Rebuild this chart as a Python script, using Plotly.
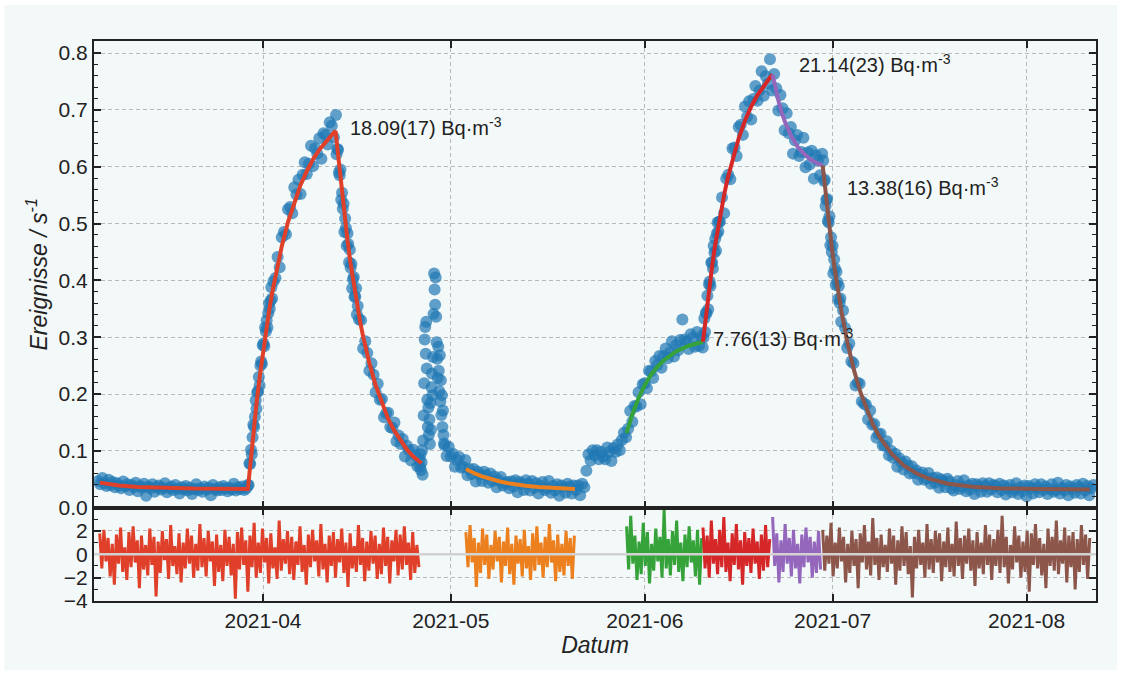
import pandas as pd
import plotly.graph_objects as go

# ---------------------------------------------------------------------------
# Measured count rate (events per second).  Each block has its own start
# time and sampling step; steep parts are sampled more finely.
# ---------------------------------------------------------------------------
baseline_start = "2021-03-05 16:00"   # 8 h
rate_baseline = [
    0.047, 0.041, 0.052, 0.043, 0.038, 0.049, 0.040, 0.045, 0.036, 0.043,
    0.039, 0.034, 0.046, 0.037, 0.041, 0.031, 0.040, 0.036, 0.044, 0.029,
    0.038, 0.035, 0.042, 0.021, 0.037, 0.034, 0.041, 0.028, 0.036, 0.039,
    0.032, 0.035, 0.043, 0.027, 0.034, 0.037, 0.031, 0.040, 0.033, 0.025,
    0.036, 0.032, 0.038, 0.030, 0.035, 0.024, 0.033, 0.041, 0.031, 0.034,
    0.028, 0.037, 0.032, 0.035, 0.022, 0.040, 0.033, 0.030, 0.036, 0.031,
    0.038, 0.034, 0.029, 0.035, 0.032, 0.042, 0.030, 0.036, 0.033, 0.037,
    0.031, 0.034,
]

rise_fast_start = "2021-03-29 14:00"  # 3 h
rate_rise_fast = [
    0.040, 0.040, 0.078, 0.077, 0.102, 0.094, 0.124, 0.146, 0.142, 0.160,
    0.189, 0.174, 0.203, 0.205, 0.230, 0.215, 0.250, 0.257, 0.253, 0.286,
    0.289, 0.284, 0.317, 0.310, 0.330, 0.317, 0.342, 0.359, 0.350, 0.364,
    0.388, 0.368,
]

rise_slow_start = "2021-04-02 16:00"  # 8 h
rate_rise_slow = [
    0.398, 0.404, 0.441, 0.423, 0.476, 0.485, 0.481, 0.525, 0.529, 0.518,
    0.564, 0.551, 0.577, 0.552, 0.586, 0.608, 0.587, 0.605, 0.637, 0.601,
    0.632, 0.623, 0.650, 0.614, 0.659, 0.656, 0.639, 0.678, 0.672, 0.652,
    0.691,
]

decay_fast_start = "2021-04-12 18:00"  # 3 h
rate_decay_fast = [
    0.622, 0.631, 0.630, 0.590, 0.585, 0.595, 0.542, 0.554, 0.526, 0.535,
    0.485, 0.509, 0.492, 0.461, 0.483, 0.464, 0.432, 0.454, 0.422, 0.429,
    0.386, 0.402, 0.406, 0.371, 0.371, 0.386, 0.340, 0.355,
]

decay_slow_start = "2021-04-16 08:00"  # 8 h
rate_decay_slow = [
    0.331, 0.330, 0.280, 0.293, 0.272, 0.241, 0.254, 0.234, 0.203, 0.218,
    0.190, 0.191, 0.159, 0.166, 0.167, 0.142, 0.140, 0.150, 0.117, 0.127,
    0.112, 0.121, 0.090, 0.109, 0.101, 0.083, 0.102, 0.092, 0.073,
]

spike_start = "2021-04-26 00:00"      # 2 h, short burst at the end of April
rate_spike = [
    0.085, 0.072, 0.094, 0.066, 0.080, 0.101, 0.058, 0.118, 0.162, 0.219,
    0.296, 0.318, 0.271, 0.327, 0.245, 0.190, 0.142, 0.176, 0.128, 0.155,
    0.112, 0.184, 0.137, 0.212, 0.236, 0.198, 0.265, 0.341, 0.412, 0.384,
    0.357, 0.405, 0.336, 0.291, 0.262, 0.228, 0.283, 0.241, 0.205, 0.268,
    0.187, 0.224, 0.163, 0.198, 0.142, 0.171, 0.128, 0.113,
]

may_start = "2021-04-30 00:00"        # 8 h
rate_may = [
    0.110, 0.091, 0.107, 0.090, 0.095, 0.072, 0.084, 0.089, 0.070, 0.072,
    0.084, 0.057, 0.068, 0.059, 0.068, 0.046, 0.063, 0.058, 0.047, 0.063,
    0.057, 0.044, 0.060, 0.047, 0.055, 0.036, 0.048, 0.054, 0.039, 0.043,
    0.045, 0.034, 0.046, 0.037, 0.048, 0.027, 0.045, 0.041, 0.031, 0.048,
    0.042, 0.030, 0.047, 0.035, 0.043, 0.025, 0.038, 0.045, 0.031, 0.035,
    0.047, 0.026, 0.038, 0.030, 0.041, 0.021, 0.039, 0.036, 0.026, 0.042,
    0.037, 0.025, 0.039, 0.031, 0.039, 0.022,
]

june_start = "2021-05-22 00:00"       # 8 h
rate_june = [
    0.042, 0.036, 0.065, 0.094, 0.083, 0.101, 0.092, 0.101, 0.085, 0.098,
    0.090, 0.085, 0.106, 0.098, 0.082, 0.105, 0.098, 0.111, 0.101, 0.119,
    0.132, 0.124, 0.139, 0.170, 0.151, 0.179, 0.178, 0.203, 0.182, 0.217,
    0.219, 0.210, 0.241, 0.240, 0.228, 0.258, 0.251, 0.267, 0.246, 0.267,
    0.280, 0.263, 0.273, 0.293, 0.266, 0.286, 0.277, 0.295, 0.331, 0.296,
    0.292, 0.279, 0.305, 0.299, 0.283, 0.309, 0.285, 0.301,
]

step_fast_start = "2021-06-10 06:00"  # 3 h
rate_step_fast = [
    0.282, 0.299, 0.333, 0.309, 0.343, 0.342, 0.373, 0.349, 0.393, 0.398,
    0.390, 0.431, 0.432, 0.421, 0.461, 0.449, 0.473, 0.452, 0.482, 0.502,
    0.486, 0.503,
]

peak_start = "2021-06-13 00:00"       # 8 h
rate_peak = [
    0.503, 0.546, 0.518, 0.579, 0.586, 0.578, 0.632, 0.634, 0.619, 0.670,
    0.674, 0.656, 0.706, 0.688, 0.715, 0.683, 0.719, 0.742, 0.716, 0.734,
    0.768, 0.725, 0.759, 0.746, 0.789, 0.734, 0.763, 0.738, 0.699, 0.726,
    0.703, 0.664, 0.694, 0.659, 0.670, 0.623, 0.646, 0.656, 0.619, 0.626,
    0.651, 0.599, 0.625, 0.604, 0.628, 0.579, 0.620, 0.611, 0.585, 0.623,
]

fall_fast_start = "2021-06-29 12:00"  # 3 h
rate_fall_fast = [
    0.611, 0.575, 0.577, 0.531, 0.542, 0.543, 0.505, 0.502, 0.513, 0.462,
    0.476, 0.450, 0.461, 0.412, 0.437, 0.421, 0.392, 0.415, 0.397, 0.367,
    0.390, 0.360, 0.368, 0.327,
]

july_start = "2021-07-02 16:00"       # 8 h
rate_july = [
    0.347, 0.316, 0.281, 0.289, 0.257, 0.254, 0.215, 0.220, 0.218, 0.187,
    0.183, 0.181, 0.155, 0.171, 0.146, 0.147, 0.123, 0.129, 0.130, 0.110,
    0.109, 0.117, 0.092, 0.100, 0.088, 0.095, 0.072, 0.087, 0.080, 0.067,
    0.081, 0.074, 0.060, 0.073, 0.061, 0.066, 0.049, 0.058, 0.062, 0.049,
    0.052, 0.061, 0.042, 0.052, 0.044, 0.053, 0.035, 0.050, 0.046, 0.036,
    0.051, 0.046, 0.034,
]

aug_start = "2021-07-20 08:00"        # 8 h
rate_aug = [
    0.030, 0.040, 0.047, 0.033, 0.037, 0.048, 0.029, 0.039, 0.032, 0.042,
    0.024, 0.041, 0.037, 0.028, 0.043, 0.038, 0.028, 0.043, 0.032, 0.040,
    0.038, 0.027, 0.042, 0.031, 0.039, 0.023, 0.034, 0.040, 0.027, 0.032,
    0.043, 0.024, 0.036, 0.029, 0.039, 0.020, 0.038, 0.034, 0.025, 0.041,
    0.035, 0.027, 0.041, 0.031, 0.037, 0.024, 0.033, 0.041, 0.028, 0.031,
    0.044, 0.025, 0.035, 0.030, 0.040, 0.022, 0.037, 0.033, 0.026, 0.040,
    0.036, 0.025, 0.042, 0.030, 0.038, 0.022, 0.034, 0.040,
]

# ---------------------------------------------------------------------------
# Fitted model curves (knots)
# ---------------------------------------------------------------------------
fit_a_dates = [
    "2021-03-05 22:00", "2021-03-07 00:00", "2021-03-09 00:00", "2021-03-12 00:00",
    "2021-03-16 00:00", "2021-03-21 00:00", "2021-03-29 14:00", "2021-03-30 00:00",
    "2021-03-30 12:00", "2021-03-31 00:00", "2021-03-31 12:00", "2021-04-01 00:00",
    "2021-04-01 12:00", "2021-04-02 00:00", "2021-04-02 12:00", "2021-04-03 00:00",
    "2021-04-03 12:00", "2021-04-04 00:00", "2021-04-05 00:00", "2021-04-06 00:00",
    "2021-04-07 00:00", "2021-04-08 00:00", "2021-04-09 00:00", "2021-04-10 00:00",
    "2021-04-11 00:00", "2021-04-12 00:00", "2021-04-12 14:00", "2021-04-13 00:00",
    "2021-04-13 12:00", "2021-04-14 00:00", "2021-04-14 12:00", "2021-04-15 00:00",
    "2021-04-15 12:00", "2021-04-16 00:00", "2021-04-16 12:00", "2021-04-17 00:00",
    "2021-04-18 00:00", "2021-04-19 00:00", "2021-04-20 00:00", "2021-04-21 00:00",
    "2021-04-22 00:00", "2021-04-23 00:00", "2021-04-24 00:00", "2021-04-25 00:00",
    "2021-04-26 00:00", "2021-04-26 08:00",
]
fit_a_vals = [
    0.044, 0.042, 0.039, 0.0365,
    0.0345, 0.0335, 0.033, 0.081,
    0.136, 0.187, 0.232, 0.275,
    0.313, 0.348, 0.380, 0.409,
    0.436, 0.460, 0.503, 0.538,
    0.568, 0.592, 0.613, 0.630,
    0.644, 0.656, 0.663, 0.618,
    0.564, 0.514, 0.470, 0.429,
    0.392, 0.358, 0.328, 0.301,
    0.254, 0.215, 0.183, 0.156,
    0.135, 0.117, 0.102, 0.090,
    0.081, 0.078,
]

fit_b_dates = [
    "2021-05-03 10:00", "2021-05-04 00:00", "2021-05-05 00:00", "2021-05-06 00:00",
    "2021-05-07 00:00", "2021-05-08 00:00", "2021-05-09 00:00", "2021-05-10 00:00",
    "2021-05-11 00:00", "2021-05-13 00:00", "2021-05-15 00:00", "2021-05-17 00:00",
    "2021-05-19 00:00", "2021-05-20 20:00",
]
fit_b_vals = [
    0.068, 0.0645, 0.0593, 0.0550,
    0.0513, 0.0482, 0.0456, 0.0433,
    0.0414, 0.0385, 0.0363, 0.0347,
    0.0336, 0.0330,
]

fit_c_dates = [
    "2021-05-29 02:00", "2021-05-30 00:00", "2021-05-31 00:00", "2021-06-01 00:00",
    "2021-06-02 00:00", "2021-06-03 00:00", "2021-06-04 00:00", "2021-06-05 00:00",
    "2021-06-06 00:00", "2021-06-07 00:00", "2021-06-08 00:00", "2021-06-09 00:00",
    "2021-06-10 07:00",
]
fit_c_vals = [
    0.131, 0.164, 0.193, 0.216,
    0.234, 0.248, 0.259, 0.268,
    0.275, 0.280, 0.285, 0.288,
    0.292,
]

fit_d_dates = [
    "2021-06-10 07:00", "2021-06-10 18:00", "2021-06-11 06:00", "2021-06-11 18:00",
    "2021-06-12 06:00", "2021-06-12 18:00", "2021-06-13 06:00", "2021-06-13 18:00",
    "2021-06-14 06:00", "2021-06-15 00:00", "2021-06-16 00:00", "2021-06-17 00:00",
    "2021-06-18 00:00", "2021-06-19 00:00", "2021-06-20 00:00", "2021-06-21 00:00",
    "2021-06-21 10:00",
]
fit_d_vals = [
    0.292, 0.338, 0.384, 0.425,
    0.463, 0.497, 0.528, 0.555,
    0.580, 0.613, 0.650, 0.681,
    0.706, 0.726, 0.743, 0.757,
    0.762,
]

fit_e_dates = [
    "2021-06-21 10:00", "2021-06-21 22:00", "2021-06-22 10:00", "2021-06-22 22:00",
    "2021-06-23 10:00", "2021-06-24 10:00", "2021-06-25 10:00", "2021-06-26 10:00",
    "2021-06-27 10:00", "2021-06-28 10:00", "2021-06-29 10:00",
]
fit_e_vals = [
    0.762, 0.736, 0.713, 0.694,
    0.678, 0.653, 0.635, 0.623,
    0.613, 0.607, 0.602,
]

fit_f_dates = [
    "2021-06-29 10:00", "2021-06-29 22:00", "2021-06-30 10:00", "2021-06-30 22:00",
    "2021-07-01 10:00", "2021-07-01 22:00", "2021-07-02 10:00", "2021-07-03 10:00",
    "2021-07-04 10:00", "2021-07-05 10:00", "2021-07-06 10:00", "2021-07-07 10:00",
    "2021-07-08 10:00", "2021-07-09 10:00", "2021-07-10 10:00", "2021-07-12 10:00",
    "2021-07-14 10:00", "2021-07-16 10:00", "2021-07-19 10:00", "2021-07-23 10:00",
    "2021-07-28 00:00", "2021-08-03 00:00", "2021-08-11 02:00",
]
fit_f_vals = [
    0.602, 0.548, 0.499, 0.454,
    0.414, 0.378, 0.345, 0.288,
    0.242, 0.204, 0.173, 0.147,
    0.126, 0.109, 0.095, 0.074,
    0.060, 0.051, 0.042, 0.0367,
    0.0339, 0.033, 0.032,
]

# ---------------------------------------------------------------------------
# Normalised residuals of each fit (8 h spacing)
# ---------------------------------------------------------------------------
res_a_start = "2021-03-05 22:00"
res_a = [
    1.8, -1.2, 2.1, -0.6, 1.4, -1.9, 0.9, -2.6, 1.7, -0.8, 2.3, -1.5, 0.6, -2.2, 1.9, -1.1,
    2.4, -0.7, 1.2, -2.9, 1.6, -1.3, 0.8, -1.8, 2.2, -0.9, 1.5, -3.6, 1.1, -1.6, 2.0, -0.5,
    1.3, -2.1, 2.5, -1.0, 0.7, -1.7, 1.8, -2.4, 1.0, -1.2, 2.2, -0.8, 1.6, -2.0, 0.9, -1.4,
    2.6, -1.1, 1.4, -1.9, 2.0, -0.6, 1.1, -2.7, 1.7, -1.5, 0.8, -2.3, 2.1, -1.0, 1.5, -1.8,
    0.9, -3.8, 1.9, -1.3, 2.3, -0.9, 1.2, -3.2, 1.6, -1.1, 2.7, -2.0, 1.0, -1.6, 2.2, -0.7,
    1.4, -2.5, 1.8, -1.2, 0.6, -2.1, 2.9, -1.4, 1.3, -0.8, 2.0, -1.7, 1.5, -2.2, 1.1, -0.9,
    2.4, -1.5, 0.8, -2.6, 1.7, -1.1, 2.1, -0.6, 1.2, -1.9, 2.6, -1.3, 0.9, -2.4, 1.6, -1.0,
    1.9, -2.0, 1.3, -0.7, 2.2, -1.6, 1.0, -2.8, 1.8, -1.2, 0.7, -1.5, 2.5, -0.9, 1.4, -2.3,
    1.1, -1.4, 2.0, -0.8, 1.6, -2.1, 0.9, -1.7, 2.3, -1.0, 1.5, -2.5, 1.2, -0.6, 2.1, -1.8,
    1.7, -1.3, 2.4, -0.9, 1.0, -2.2, 1.9, -1.6, 0.8, -1.1,
]
res_b_start = "2021-05-03 10:00"
res_b = [
    1.9, -1.1, 2.5, -0.7, 1.4, -2.8, 1.0, -1.6, 2.2, -0.9, 1.7, -2.1, 0.8, -1.3, 2.0, -0.6,
    1.5, -2.4, 1.1, -1.0, 2.3, -1.7, 0.9, -2.6, 1.6, -0.8, 1.3, -1.9, 2.1, -1.2, 0.7, -2.2,
    1.8, -1.4, 2.4, -0.9, 1.0, -2.0, 1.5, -1.1, 2.6, -0.7, 1.2, -2.3, 1.7, -1.5, 0.9, -1.8,
    2.0, -1.0, 1.4, -2.1, 1.6,
]
res_c_start = "2021-05-29 02:00"
res_c = [
    2.4, -1.3, 3.3, -0.8, 1.6, -2.2, 1.1, -1.7, 2.7, -1.0, 1.9, -2.5, 0.9, -1.4, 2.2, -0.6,
    1.5, -2.0, 3.8, -1.2, 1.3, -1.8, 2.0, -0.9, 2.9, -1.5, 1.0, -2.3, 1.7, -1.1, 2.4, -0.7,
    1.2, -1.9, 2.1, -2.6, 1.4,
]
res_d_start = "2021-06-10 07:00"
res_d = [
    2.3, -1.2, 1.6, -2.0, 2.9, -0.8, 1.3, -1.7, 2.1, -1.1, 3.2, -1.5, 1.0, -2.3, 1.8, -0.9,
    2.6, -1.3, 1.2, -2.6, 1.9, -1.0, 1.4, -1.6, 2.2, -0.8, 1.1, -2.1, 1.7, -1.4, 2.5, -1.1,
    1.3,
]
res_e_start = "2021-06-21 10:00"
res_e = [
    3.2, -1.0, 1.8, -2.4, 1.2, -1.5, 2.6, -0.8, 1.4, -1.9, 2.1, -1.2, 0.9, -2.5, 1.7, -1.1,
    2.3, -0.7, 1.5, -2.0, 1.1, -1.6, 2.0, -1.3,
]
res_f_start = "2021-06-29 10:00"
res_f = [
    2.1, -1.4, 1.6, -0.8, 2.7, -1.9, 1.0, -1.2, 2.3, -0.6, 1.5, -2.4, 0.9, -1.6, 2.0, -1.0,
    1.3, -2.9, 1.8, -0.7, 2.5, -1.3, 1.1, -1.8, 3.1, -0.9, 1.4, -2.2, 1.7, -1.1, 0.8, -1.5,
    2.2, -0.8, 1.6, -2.6, 1.2, -1.4, 2.4, -1.0, 1.9, -1.7, 0.7, -3.7, 1.5, -1.2, 2.1, -0.9,
    1.0, -2.0, 2.6, -1.3, 1.3, -1.6, 2.0, -0.7, 1.8, -2.3, 1.1, -1.1, 2.3, -1.5, 0.9, -1.9,
    2.8, -1.0, 1.4, -2.1, 1.6, -0.8, 2.2, -1.4, 1.2, -2.7, 1.9, -1.2, 1.0, -1.7, 2.5, -0.9,
    1.7, -2.2, 1.3, -1.0, 2.1, -1.6, 3.3, -1.1, 1.5, -2.5, 0.8, -1.3, 2.4, -0.7, 1.6, -2.0,
    1.1, -1.5, 2.0, -3.2, 1.8, -0.9, 2.6, -1.2, 1.4, -1.8, 0.9, -2.9, 2.2, -1.0, 1.5, -1.4,
    2.9, -1.7, 1.2, -0.8, 2.3, -2.4, 1.6, -1.1, 1.9, -3.0, 1.3, -1.5, 2.5, -0.9, 1.7, -2.1,
    1.4,
]

# radon concentration labels
label_texts = [
    "18.09(17) Bq·m<sup>-3</sup>",
    "7.76(13) Bq·m<sup>-3</sup>",
    "21.14(23) Bq·m<sup>-3</sup>",
    "13.38(16) Bq·m<sup>-3</sup>",
]
label_dates = ["2021-04-14 12:00", "2021-06-11 15:00", "2021-06-25 07:00", "2021-07-02 22:00"]
label_rates = [0.671, 0.300, 0.781, 0.566]

# ---------------------------------------------------------------------------
C_DATA = "#1f77b4"
C_A = "#e0402a"
C_B = "#ec801f"
C_C = "#35a23a"
C_D = "#d62728"
C_E = "#9467bd"
C_F = "#8c564b"
INK = "#222222"
BG = "#f3f8f9"
GRID = "#b9b9b9"
FONT = "Liberation Sans, Arial, Helvetica, sans-serif"


def stamps(start, n, step="8h"):
    return pd.date_range(start, periods=n, freq=step)


rate_segments = [
    (baseline_start, rate_baseline, "8h"),
    (rise_fast_start, rate_rise_fast, "3h"),
    (rise_slow_start, rate_rise_slow, "8h"),
    (decay_fast_start, rate_decay_fast, "3h"),
    (decay_slow_start, rate_decay_slow, "8h"),
    (spike_start, rate_spike, "2h"),
    (may_start, rate_may, "8h"),
    (june_start, rate_june, "8h"),
    (step_fast_start, rate_step_fast, "3h"),
    (peak_start, rate_peak, "8h"),
    (fall_fast_start, rate_fall_fast, "3h"),
    (july_start, rate_july, "8h"),
    (aug_start, rate_aug, "8h"),
]
t_data, r_data = [], []
for start, vals, step in rate_segments:
    t_data.extend(stamps(start, len(vals), step))
    r_data.extend(vals)

fig = go.Figure()

fig.add_trace(go.Scatter(
    x=t_data, y=r_data, mode="markers", xaxis="x", yaxis="y",
    marker=dict(color=C_DATA, size=12, opacity=0.7, line=dict(width=0)),
    hoverinfo="skip",
))

fits = [
    (fit_a_dates, fit_a_vals, C_A),
    (fit_b_dates, fit_b_vals, C_B),
    (fit_c_dates, fit_c_vals, C_C),
    (fit_d_dates, fit_d_vals, C_D),
    (fit_e_dates, fit_e_vals, C_E),
    (fit_f_dates, fit_f_vals, C_F),
]
for dates, vals, col in fits:
    fig.add_trace(go.Scatter(
        x=pd.to_datetime(dates, format="ISO8601"), y=vals, mode="lines",
        xaxis="x", yaxis="y", line=dict(color=col, width=4), hoverinfo="skip",
    ))

residuals = [
    (res_a_start, res_a, C_A),
    (res_b_start, res_b, C_B),
    (res_c_start, res_c, C_C),
    (res_d_start, res_d, C_D),
    (res_e_start, res_e, C_E),
    (res_f_start, res_f, C_F),
]
for start, vals, col in residuals:
    fig.add_trace(go.Scatter(
        x=stamps(start, len(vals)), y=vals, mode="lines", xaxis="x2", yaxis="y2",
        line=dict(color=col, width=3), hoverinfo="skip",
    ))

annotations = [
    dict(text=txt, x=pd.Timestamp(d), y=v, xref="x", yref="y", showarrow=False,
         xanchor="left", yanchor="middle", font=dict(size=20, color=INK, family=FONT))
    for txt, d, v in zip(label_texts, label_dates, label_rates)
]

x_range = ["2021-03-05 00:00", "2021-08-12 02:00"]
axis_common = dict(
    showline=True, linecolor=INK, linewidth=2, mirror="ticks",
    ticks="inside", ticklen=7, tickwidth=1.6, tickcolor=INK,
    showgrid=True, gridcolor=GRID, gridwidth=1, griddash="4px,3px",
    zeroline=False, tickfont=dict(size=21),
)

fig.update_layout(
    width=1122, height=675,
    margin=dict(l=94, r=26, t=41, b=74),
    paper_bgcolor="white", plot_bgcolor=BG,
    showlegend=False,
    font=dict(family=FONT, size=20, color=INK),
    annotations=annotations,
    xaxis=dict(
        axis_common, domain=[0, 1], anchor="y", type="date", range=x_range,
        dtick="M1", tick0="2021-04-01", showticklabels=False,
    ),
    xaxis2=dict(
        axis_common, domain=[0, 1], anchor="y2", type="date", range=x_range,
        matches="x", dtick="M1", tick0="2021-04-01", tickformat="%Y-%m",
        title=dict(text="<i>Datum</i>", font=dict(size=23), standoff=4),
    ),
    yaxis=dict(
        axis_common, domain=[0.1667, 1], anchor="x", range=[0, 0.8212],
        dtick=0.1, tickformat=".1f",
        minor=dict(dtick=0.02, ticks="inside", ticklen=4, tickwidth=1.2,
                   tickcolor=INK, showgrid=False),
        title=dict(text="<i>Ereignisse / s<sup>-1</sup></i>", font=dict(size=23), standoff=5),
    ),
    yaxis2=dict(
        axis_common, domain=[0, 0.1667], anchor="x2", range=[-4, 4],
        tickvals=[-4, -2, 0, 2],
        minor=dict(dtick=1, ticks="inside", ticklen=4, tickwidth=1.2,
                   tickcolor=INK, showgrid=False),
    ),
    shapes=[
        dict(type="rect", xref="paper", yref="paper", x0=-0.0894, x1=1.021,
             y0=-0.1232, y1=1.0643, fillcolor=BG, line=dict(width=0), layer="below"),
        dict(type="line", xref="x2 domain", yref="y2", x0=0, x1=1, y0=0, y1=0,
             line=dict(color="#d2d2d2", width=2.5), layer="above"),
    ],
)

fig.write_html("out.html")
